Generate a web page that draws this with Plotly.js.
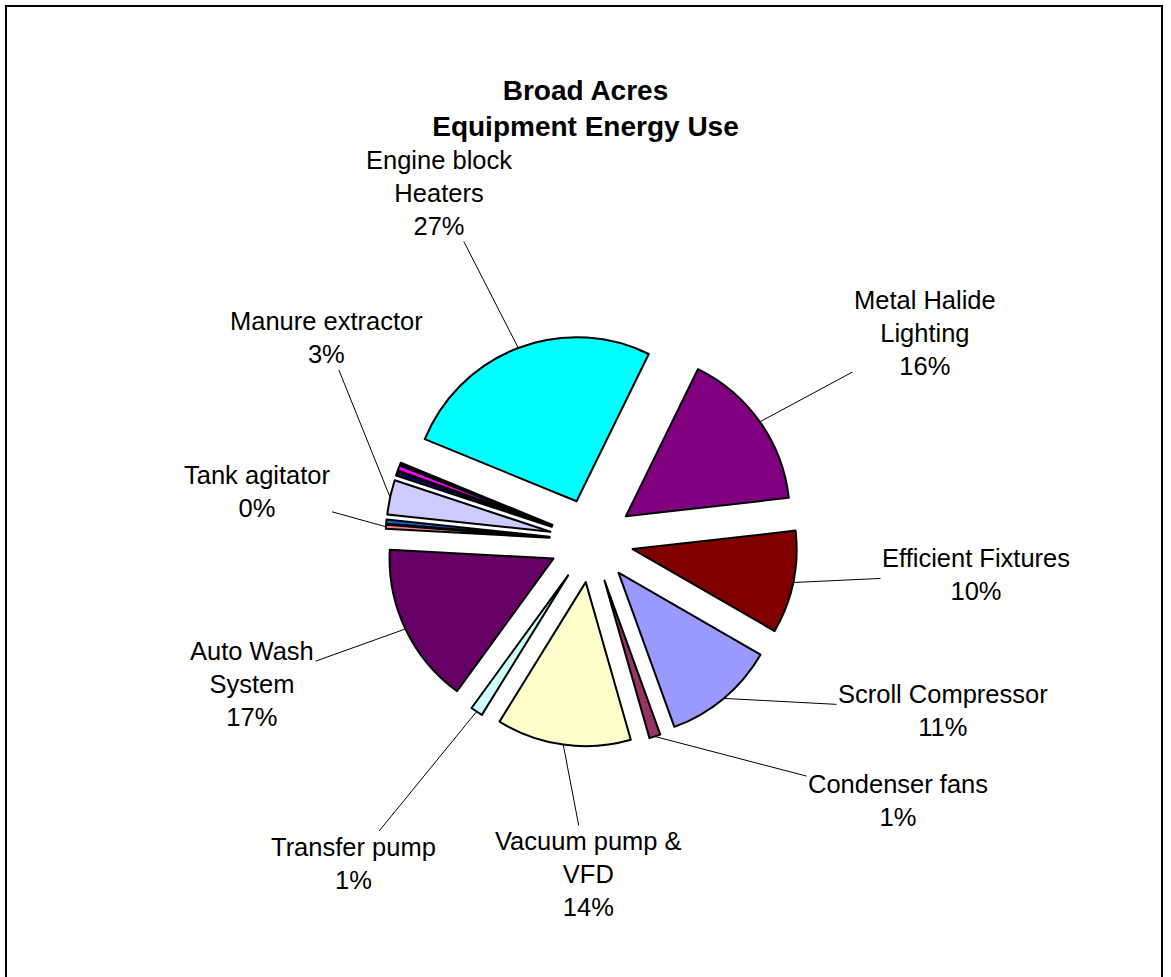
<!DOCTYPE html>
<html><head><meta charset="utf-8">
<script src="https://cdn.plot.ly/plotly-3.0.1.min.js"></script>
<style>html,body{margin:0;padding:0;background:#fff}</style>
</head><body>
<div id="chart" style="width:1171px;height:977px"></div>
<script>
// ---- data, in the order the slices are drawn (clockwise) ----
const categories = ['Scroll Compressor','Condenser fans','Vacuum pump & VFD','Transfer pump','Auto Wash System',
  'Tank agitator','Unlabeled 1','Manure extractor','Unlabeled 2','Unlabeled 3','Unlabeled 4',
  'Engine block Heaters','Metal Halide Lighting','Efficient Fixtures'];
const values = [11.1, 1.1, 13.2, 1.2, 15.8, 0.4, 0.4, 3.4, 0.4, 0.5, 0.2, 26.0, 15.9, 10.1];
const percentLabels = ['11%','1%','14%','1%','17%','0%','','3%','','','','27%','16%','10%'];
const labelLines = [['Scroll Compressor'],['Condenser fans'],['Vacuum pump &','VFD'],['Transfer pump'],['Auto Wash','System'],
  ['Tank agitator'],null,['Manure extractor'],null,null,null,['Engine block','Heaters'],['Metal Halide','Lighting'],['Efficient Fixtures']];
const colors = ['#9999FF','#993366','#FFFFCC','#CCFFFF','#660066','#FF8080','#0066CC','#CCCCFF','#000080','#FF00FF','#FFFF00','#00FFFF','#800080','#800000'];

// ---- layout constants ----
const W = 1171, H = 977;
const CX = 591.5, CY = 540.5, R = 164, PULLPX = 42;
const ROT = 120;
const labelPos = {
  'Scroll Compressor':[943,710], 'Condenser fans':[898,800], 'Vacuum pump & VFD':[588,874], 'Transfer pump':[353,863],
  'Auto Wash System':[252,684], 'Tank agitator':[257,491], 'Manure extractor':[326,338], 'Engine block Heaters':[439,193],
  'Metal Halide Lighting':[925,333], 'Efficient Fixtures':[976,574]
};
const FONT = 'Liberation Sans, Arial, sans-serif';

const pull = PULLPX / R;
const half = R + PULLPX;
const total = values.reduce((a,b)=>a+b,0);

const annotations = [];
let cum = 0;
values.forEach((v,i)=>{
  const a0 = ROT + cum/total*360;
  cum += v;
  const mid = (a0 + v/total*180) * Math.PI/180;
  if (!labelLines[i]) return;
  const tx = CX + (R + PULLPX)*Math.sin(mid);
  const ty = CY - (R + PULLPX)*Math.cos(mid);
  const lp = labelPos[categories[i]];
  annotations.push({
    x: tx/W, y: 1 - ty/H, xref:'paper', yref:'paper',
    text: labelLines[i].concat([percentLabels[i]]).join('<br>'),
    showarrow: true, arrowhead: 0, arrowwidth: 1, arrowcolor: '#000',
    ax: lp[0]-tx, ay: lp[1]-ty, standoff: 0,
    font: {family: FONT, size: 25.5, color: '#000'}, align: 'center'
  });
});

const trace = {
  type: 'pie',
  labels: categories,
  values: values,
  sort: false,
  direction: 'clockwise',
  rotation: ROT,
  pull: values.map(()=>pull),
  marker: {colors: colors, line: {color: '#000', width: 2}},
  textinfo: 'none',
  hoverinfo: 'label+percent',
  domain: {x: [(CX-half)/W, (CX+half)/W], y: [1-(CY+half)/H, 1-(CY-half)/H]},
  showlegend: false
};

const layout = {
  width: W, height: H,
  margin: {l:0, r:0, t:0, b:0},
  paper_bgcolor: '#fff',
  showlegend: false,
  title: {
    text: 'Broad Acres<br>Equipment Energy Use',
    font: {family: FONT, size: 28, color: '#000', weight: 700},
    x: 0.5, xanchor: 'center', xref: 'paper',
    y: 1 - 100/H, yanchor: 'middle', yref: 'paper'
  },
  annotations: annotations,
  shapes: [{type:'rect', xref:'paper', yref:'paper', x0: 6/W, x1: 1162/W, y0: -0.05, y1: 1-6/H,
    line:{color:'#000', width:2}, fillcolor:'rgba(0,0,0,0)', layer:'below'}]
};

Plotly.newPlot('chart', [trace], layout, {displayModeBar: false, staticPlot: true});
</script>
</body></html>
